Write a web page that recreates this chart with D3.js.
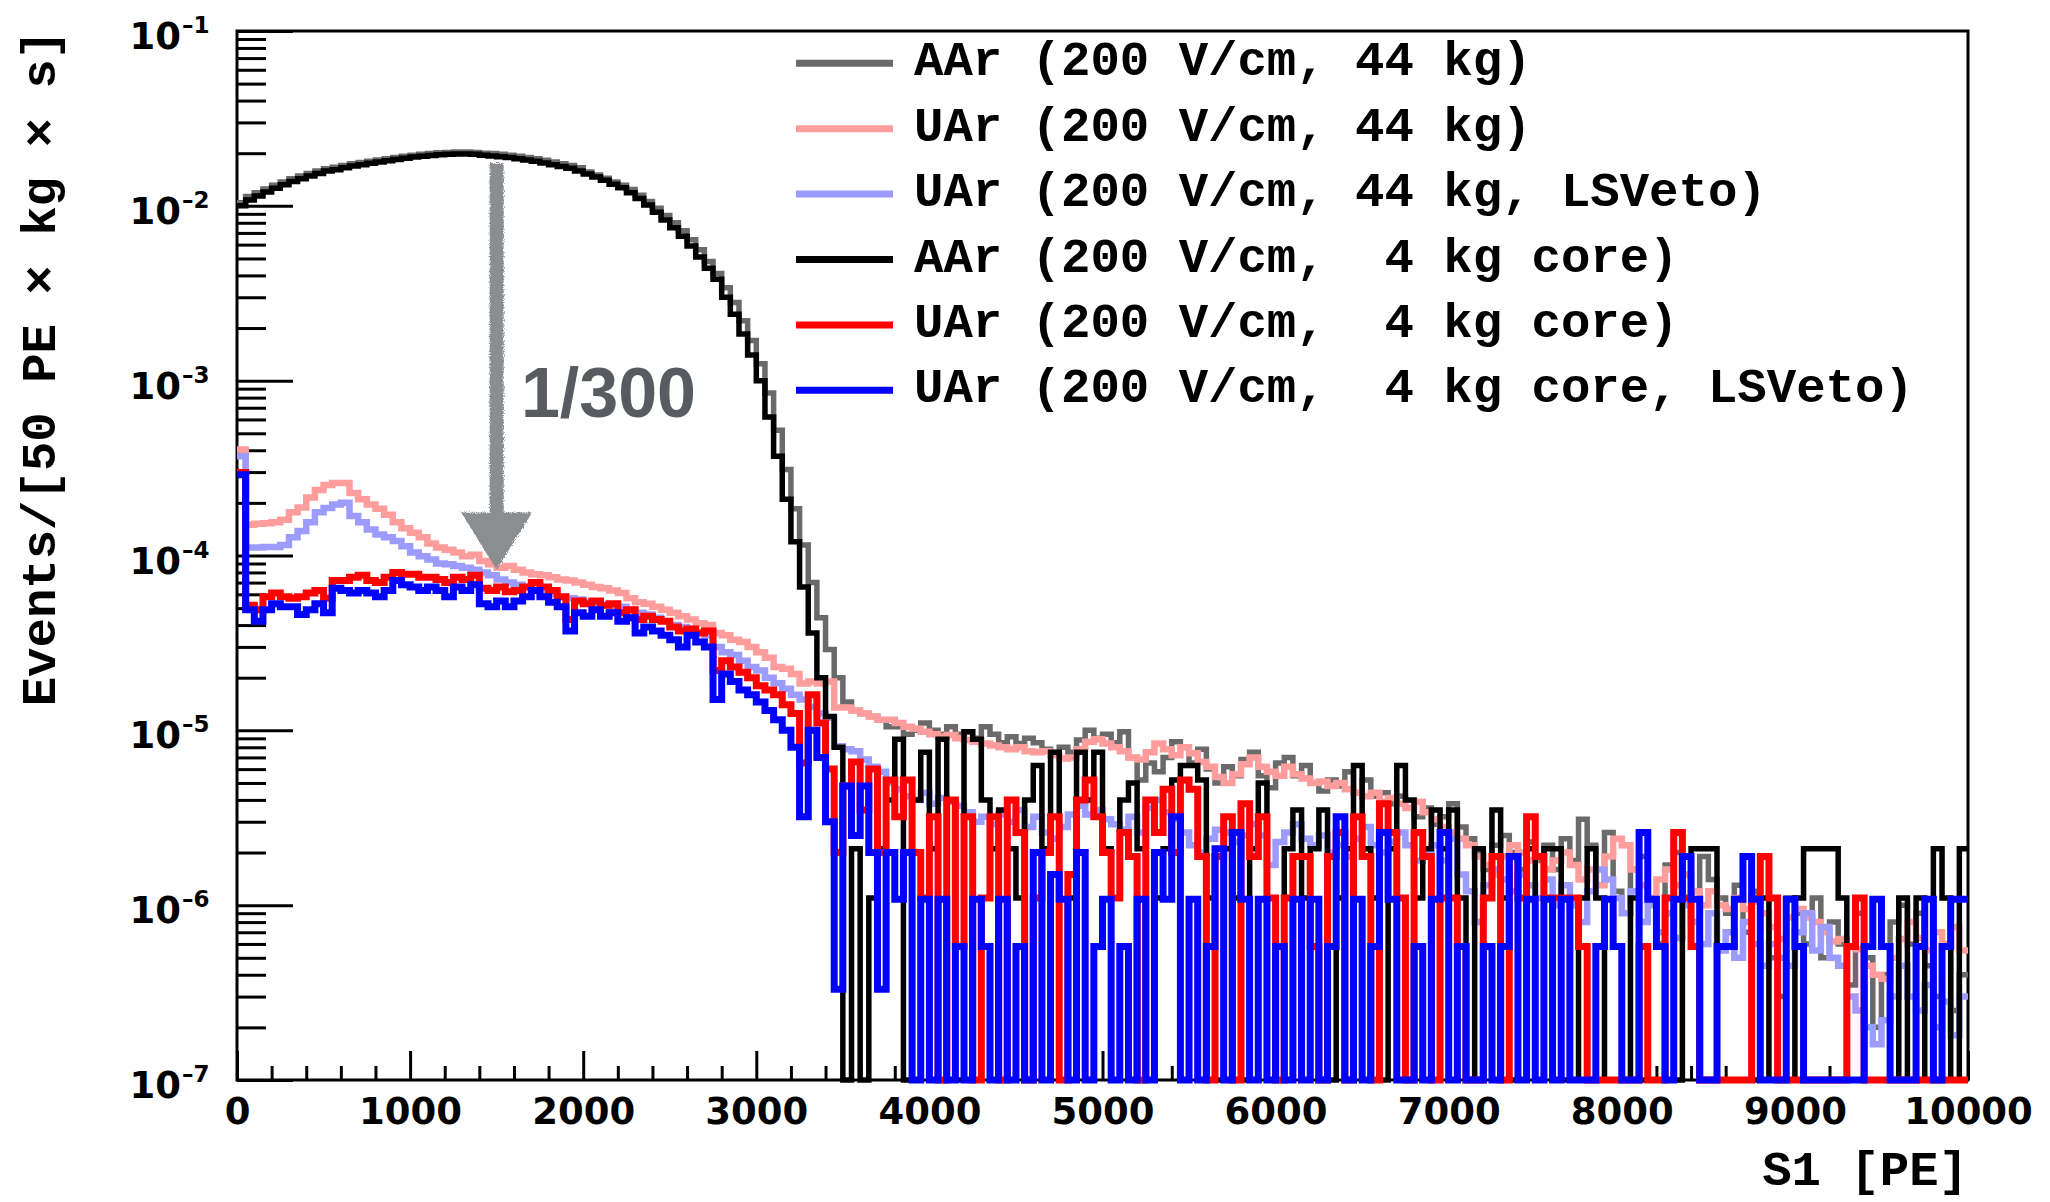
<!DOCTYPE html>
<html>
<head>
<meta charset="utf-8">
<script src="https://cdn.jsdelivr.net/npm/d3@7"></script>
<style>
body { margin: 0; background: #fff; }
svg { display: block; }
.tick text { font-family: "DejaVu Sans"; font-weight: bold; font-size: 37px; fill: #000; }
</style>
</head>
<body>
<svg id="chart" width="2050" height="1202"></svg>
<script>
// histogram contents, one value per 50 PE bin, in units of 1e-6 events/[50 PE x kg x s]
const UNIT = 1e-6;
const binWidth = 50;

const aar44 = [
10400,11300,11900,12500,13100,13700,14300,14800,15300,15800,
16300,16600,17000,17400,17700,18000,18300,18600,18900,19200,
19500,19700,19900,20100,20200,20300,20300,20200,20000,19900,
19700,19500,19200,18900,18600,18200,17800,17400,17000,16500,
15600,15000,14400,13700,13100,12400,11500,10600,9700,8800,
8000,7200,6400,5600,4800,4100,3400,2800,2200,1700,
1250,850,520,310,185,115,70,44,29,
20,14.5,13,12.5,12,11.5,10.5,10.5,9.5,10,
11,10,9.5,10.5,9.5,9.8,9,10.5,9.5,8.5,
9.2,8.4,9,8.5,7.8,7.2,8,7.5,8.8,10,
9,9.5,8.5,9.8,7,5.2,6.5,5.8,7,8.6,
8,6.5,7.8,6,5,6.2,5.5,6.8,7.5,5.5,
4.7,6.5,7,5.5,6.3,5,4.5,5.2,4.8,5.8,
4.4,5.2,4.2,4.4,3.8,4.2,3.6,3.2,3.6,2.9,
3.2,3.8,2.8,2.4,2,1.6,2.2,2.5,2,1.6,
2.3,1.8,2.2,1.6,2.4,1.8,3.1,2.2,1.3,2.6,
1.2,0.9,1.6,1.9,1,0.6,1.7,2,1.5,0.8,
1.9,1.4,1.1,0.9,1.3,0.7,1.2,0.9,0.5,0.3,
1.1,0.9,0.6,1.1,0.5,0.8,0.6,0.35,0.9,0.5,
0.2,0.4,0.8,1,0.6,0.9,0.45,0.3,0.6,0.25,
0.4];

const uar44 = [
404,150,152,153,155,160,177,188,215,237,
253,260,260,228,210,196,185,171,155,143,
135,127,117,111,108,104,99,101,93,89,
85,87,83,80,78,77,75,73,72,70,
68,66,65,63,61,57,54,53,51,49,
47,45,43,41,40,36,35,33,32,30,
28,26,23,22.5,21,18.5,19,18.5,19,
13.5,13.5,13,12.5,12,11.5,11.5,11,10.5,10.2,
9.8,9.5,9.2,9.4,9,8.8,8.6,8.4,8.2,8,
7.8,8,7.6,7.5,7.6,7.2,6.9,7,7.8,8.6,
8.9,8.4,8,7.6,7,6.8,7.5,8.4,7.8,7.2,
8,7.4,6.6,6.2,5.4,5,5.6,6.4,7,6.2,
5.8,5.5,6.2,5.6,5.3,5,5.1,4.8,5,4.6,
4.4,4.2,4.4,3.9,4.1,3.8,3.6,3.9,3.4,3.1,
2.8,2.6,2.4,2.2,1.9,1.7,1.5,1.9,2.2,2,
1.8,1.9,1.6,1.8,2,1.7,1.4,1.6,1.3,1.9,
2.4,2.2,1.6,1.3,1.1,1.4,1.6,1.3,1.5,1.2,
1,1.2,1,0.95,1.1,0.95,1.05,0.9,0.75,0.64,
0.85,0.95,0.85,0.8,0.7,0.62,0.64,0.58,0.56,0.45,
0.4,0.38,0.5,0.64,0.8,0.65,0.55,0.7,0.6,0.75,
0.55];

const uar44Veto = [
369,111,111,112,112,115,127,138,155,177,
187,196,200,168,155,141,132,127,121,113,
104,99,95,90,89,87,85,83,80,77,
73,70,68,66,63,61,60,58,57,56,
54,53,52,51,51,49,47,46,44,42,
40,39,38,36,35,30,28,27,25,23,
22,20,18.6,17.3,16,15,13.6,12.5,11.8,
8.1,7.8,7.6,6.8,6.2,5.8,5,4.6,4.2,4,
4.4,3.8,4.1,3.9,3.7,3.4,3,3.2,2.9,3.3,
3,3.5,2.8,3.2,2.6,2.4,2.8,3.3,3.7,3.3,
3.5,3.1,2.9,2.7,3.2,2.6,3.6,4,3.4,3.1,
2.6,2.2,2,2.4,2.7,2.6,2.3,2.5,2.9,2.5,
1.7,2.3,2.6,2.9,2.4,2.2,2.5,2,2.2,1.9,
2.4,2.8,2.2,2,2.3,2.6,2.2,1.8,2,2.2,
1.8,2.4,1.5,1.2,0.8,1.3,1.6,1.4,1.2,1.5,
1.3,1.1,1.4,1,1.3,1,0.8,1.2,1.6,1.4,
1.1,0.9,1.2,0.8,1,0.7,0.9,0.65,1,0.8,
0.6,0.9,0.55,0.7,0.5,0.8,0.6,0.45,0.6,0.5,
0.45,0.7,0.9,0.55,0.75,0.5,0.45,0.3,0.25,0.2,
0.16,0.22,0.3,0.45,0.3,0.25,0.35,0.2,0.28,0.18,
0.3];

const aarCore = [
10000,10800,11400,12000,12600,13200,13800,14300,14800,15300,
15800,16100,16500,16900,17200,17500,17800,18100,18400,18700,
19000,19200,19400,19600,19700,19800,19800,19700,19500,19300,
19100,18900,18600,18300,18000,17600,17200,16800,16400,15800,
15200,14600,14000,13300,12700,11900,11000,10100,9200,8300,
7500,6700,5900,5100,4400,3800,3000,2400,1850,1400,
1000,620,370,210,120,66,36,20,12,
8,0,2.1,0,1.1,2.1,4,8.9,0,4,
7.5,2.1,8.9,4,0,9.8,8.9,4,2.1,3.5,
2.1,1.1,4,6.3,2.1,7.5,0,1.1,7.5,4,
7.5,2.1,1.1,4,5,2.1,0,1.1,2.1,5.2,
6.3,6.3,5.2,1.1,0,2.1,1.1,0,2.1,5,
1.1,0,2.1,3.5,1.1,2.1,3.5,0,1.1,2.1,
6.3,2.1,1.1,0,2.1,6.3,4,1.1,2.1,3.5,
2.1,3.5,1.1,0,2.1,1.1,3.5,1.1,0,1.1,
2.1,0,2.1,2.1,0,0,1.1,2.1,1.1,0,
0,0,1.1,0,0,0,0,0,1.1,2.1,
2.1,2.1,0,0,0,0,0,1.1,0,0,
0,1.1,2.1,2.1,2.1,2.1,1.1,0,0,0,
0,0,0,1.1,0,1.1,0,2.1,1.1,0,
2.1];

const uarCore = [
298,52,49,58,61,58,57,58,61,63,
57,72,72,75,77,72,70,75,80,78,
78,75,75,73,70,75,73,77,65,63,
66,62,63,66,70,66,63,58,43,55,
53,55,52,53,47,49,43,45,43,42,
39,37,38,36,37,22,25,23,21.5,20,
18,17,16,14,12.5,6.5,16,11,6,
2,4.8,6.6,3.5,6,2,5.2,3.2,5.2,2,
1.1,3.2,0,4,0.58,3.2,0,1.1,3.2,0,
4,2.6,0,1.1,2,3.2,0,1.5,4,5.2,
3.2,2,1.1,2.6,1.9,0,4,2.6,4.6,2,
5.2,4.6,1.9,0,1.9,3.2,0,3.8,1.9,3.2,
1.1,0,1.1,1.9,1.9,0.58,0,1.9,2.6,0,
3.2,1.9,0,3.8,2.6,1.1,0,2.6,1.9,0,
1.1,1.1,0.58,0,0,1.1,1.9,0,1.9,1.1,
3.2,1.9,1.1,1.1,1.1,1.1,0.58,0,0,0,
0,0,0,0.58,0,0,1.1,2.6,1.1,0.58,
0,0,0,0,0,0,1.1,1.9,1.1,0,
0,0,0,0,0,0,0,0.58,1.1,0,
0,0,0,0,0,0,0,0,0,0,
0];

const uarCoreVeto = [
290,49,42,49,53,51,51,46,49,53,
47,65,63,61,63,61,58,63,72,68,
66,63,66,63,58,66,63,68,53,51,
55,51,55,58,63,58,54,51,37,47,
45,49,45,47,42,44,36,39,37,35,
33,30,35,32,30,15,21,19,17,16,
14.5,13,11.5,10,8,3.2,10,7,3,
0.33,4.8,2.5,4.8,2,0.33,2,1.08,2,0,
1.08,0,1.08,0,0.58,0,1.08,0.58,0,1.08,
0,0.58,0,2,0,1.5,1.08,0,2,0,
0.58,1.08,0,0.58,0,1.08,0,2,1.08,3.2,
0,1.08,0,0.58,2.1,0,2.6,1.08,0,1.08,
0,0.58,0,1.08,0,1.08,0,0.58,3.2,0,
1.08,0,0.58,2.6,1.08,0,0,0.58,0,1.08,
2.6,0,0.58,0,0,0.58,0,0.58,1.9,0,
1.08,0,1.08,0,1.08,0,0,0,0.58,1.08,
0.58,0,0,2.6,1.08,0.58,0,1.08,1.9,1.08,
0,0,0.58,0.58,1.08,1.9,1.08,0,0,0,
1.08,0.58,0,0,0,0,0,0,0,0.58,
1.08,0.58,0,0,0,0.58,1.08,0,0.58,1.08,
1.08];

const seriesLabels = [
  "AAr (200 V/cm, 44 kg)",
  "UAr (200 V/cm, 44 kg)",
  "UAr (200 V/cm, 44 kg, LSVeto)",
  "AAr (200 V/cm,  4 kg core)",
  "UAr (200 V/cm,  4 kg core)",
  "UAr (200 V/cm,  4 kg core, LSVeto)"
];
const seriesColors = ["#6a6a6a", "#ff9c9c", "#9c9cff", "#000000", "#ff0000", "#0000ff"];
const seriesWidths = [5.5, 6.5, 6.5, 5.5, 7, 7];
const seriesValues = [aar44, uar44, uar44Veto, aarCore, uarCore, uarCoreVeto];

const xTicks = [0,1000,2000,3000,4000,5000,6000,7000,8000,9000,10000];
const yDecades = [-1,-2,-3,-4,-5,-6,-7];

// annotation: 1/300 scaling arrow (data coords)
const arrowX = 1500, arrowTop = 0.0176, arrowHeadTop = 1.76e-4, arrowTip = 8.3e-5, arrowHalf = 205;
const noteX = 1640, noteY = 6.2e-4;

const svg = d3.select("#chart");
const plotL = 237, plotR = 1968, plotT = 31, plotB = 1080;

const x = d3.scaleLinear().domain([0, 10000]).range([plotL, plotR]);
const y = d3.scaleLog().domain([1e-7, 1e-1]).range([plotB, plotT]).clamp(true);
const yv = v => v > 0 ? y(v * UNIT) : plotB;

const defs = svg.append("defs");
defs.append("clipPath").attr("id", "plot")
  .append("rect").attr("x", plotL).attr("y", plotT - 2).attr("width", plotR - plotL).attr("height", plotB - plotT + 6);

const rough = defs.append("filter").attr("id", "rough")
  .attr("x", "-20%").attr("y", "-5%").attr("width", "140%").attr("height", "110%");
rough.append("feTurbulence").attr("type", "fractalNoise").attr("baseFrequency", 0.9).attr("numOctaves", 2).attr("result", "n");
rough.append("feDisplacementMap").attr("in", "SourceGraphic").attr("in2", "n").attr("scale", 5);

// frame
svg.append("rect").attr("x", plotL).attr("y", plotT).attr("width", plotR - plotL).attr("height", plotB - plotT)
  .attr("fill", "none").attr("stroke", "#000").attr("stroke-width", 3);

// x axis ticks (inside)
svg.append("g").attr("transform", `translate(0,${plotB})`)
  .call(d3.axisBottom(x).tickValues(xTicks).tickSize(-29).tickSizeOuter(0).tickPadding(18).tickFormat(d3.format("d")));
svg.append("g").attr("transform", `translate(0,${plotB})`)
  .call(d3.axisBottom(x).tickValues(d3.range(0, 10001, 200).filter(v => v % 1000)).tickSize(-14).tickSizeOuter(0).tickFormat(""));

// y axis ticks (inside)
const yMajor = yDecades.map(k => Math.pow(10, k));
const yMinor = [];
yDecades.slice(1).forEach(k => { for (let m = 2; m <= 9; m++) yMinor.push(m * Math.pow(10, k)); });
svg.append("g").attr("transform", `translate(${plotL},0)`)
  .call(d3.axisLeft(y).tickValues(yMajor).tickSize(-56).tickSizeOuter(0).tickFormat(""));
svg.append("g").attr("transform", `translate(${plotL},0)`)
  .call(d3.axisLeft(y).tickValues(yMinor).tickSize(-29).tickSizeOuter(0).tickFormat(""));

svg.selectAll(".domain").remove();
svg.selectAll(".tick line").attr("stroke", "#000").attr("stroke-width", 3);

// y tick labels 10^k
const yLab = svg.append("g").attr("font-family", "DejaVu Sans").attr("font-weight", "bold");
yDecades.forEach(k => {
  const ty = y(Math.pow(10, k));
  yLab.append("text").attr("x", 181).attr("y", ty + 18).attr("text-anchor", "end")
    .attr("font-size", 37).text("10");
  yLab.append("text").attr("x", 182).attr("y", ty + 2).attr("font-size", 23).text("\u2013" + Math.abs(k));
});

// histograms
const stepLine = d3.line().x(d => x(d[0])).y(d => yv(d[1])).curve(d3.curveStepAfter);
const histG = svg.append("g").attr("clip-path", "url(#plot)");
seriesValues.forEach((vals, s) => {
  const pts = vals.map((v, i) => [i * binWidth, v]);
  pts.push([vals.length * binWidth, vals[vals.length - 1]]);
  histG.append("path").attr("d", stepLine(pts)).attr("fill", "none")
    .attr("stroke", seriesColors[s]).attr("stroke-width", seriesWidths[s])
    .attr("stroke-linejoin", "miter");
});

// arrow
const arr = svg.append("g").attr("filter", "url(#rough)").attr("fill", "#8b8d90").attr("stroke", "none");
arr.append("rect").attr("x", x(arrowX) - 7).attr("width", 14)
  .attr("y", y(arrowTop)).attr("height", y(arrowHeadTop) - y(arrowTop) + 2);
arr.append("path").attr("d", d3.line()([
  [x(arrowX - arrowHalf), y(arrowHeadTop)],
  [x(arrowX + arrowHalf), y(arrowHeadTop)],
  [x(arrowX), y(arrowTip)]
]) + "Z");

svg.append("text").attr("x", x(noteX)).attr("y", y(noteY))
  .attr("font-family", "Liberation Sans, Arial").attr("font-weight", "bold").attr("font-size", 70)
  .attr("fill", "#585c61").text("1/300");

// legend
const leg = svg.append("g").attr("font-family", "Liberation Mono, Courier New").attr("font-weight", "bold").attr("font-size", 49);
seriesLabels.forEach((lab, i) => {
  const ly = 63.3 + i * 65.4;
  leg.append("line").attr("x1", 796).attr("x2", 893).attr("y1", ly).attr("y2", ly)
    .attr("stroke", seriesColors[i]).attr("stroke-width", 7);
  leg.append("text").attr("x", 914).attr("y", ly + 12).style("white-space", "pre").text(lab);
});

// axis titles
svg.append("text").attr("transform", "translate(55,30) rotate(-90)").attr("text-anchor", "end")
  .attr("font-family", "Liberation Mono, Courier New").attr("font-weight", "bold").attr("font-size", 49)
  .text("Events/[50 PE \u00d7 kg \u00d7 s]");
svg.append("text").attr("x", plotR).attr("y", 1185).attr("text-anchor", "end")
  .attr("font-family", "Liberation Mono, Courier New").attr("font-weight", "bold").attr("font-size", 49)
  .style("white-space", "pre").text("S1 [PE]");
</script>
</body>
</html>
